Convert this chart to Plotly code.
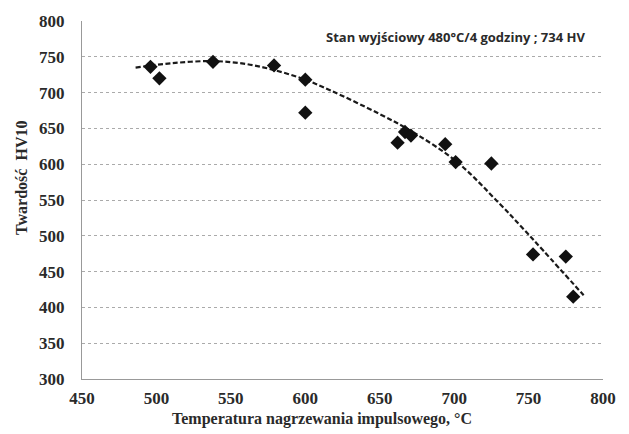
import plotly.graph_objects as go

# Measured data points
temp_c = [496, 502, 538, 579, 600, 600, 662, 667, 671, 694, 701, 725, 753, 775, 780]
hardness_hv = [736, 720, 743, 738, 718, 672, 630, 645, 640, 628, 603, 601, 474, 471, 415]

# Trend line
trend_x = [486, 510, 538, 560, 580, 600, 617, 650, 673, 702, 730, 745, 760, 787]
trend_y = [735, 741, 744, 740, 731, 718, 703, 670, 644, 603, 546, 513, 479, 417]

x_ticks = [450, 500, 550, 600, 650, 700, 750, 800]
y_ticks = [300, 350, 400, 450, 500, 550, 600, 650, 700, 750, 800]
x_labels = [f"<b>{v}</b>" for v in x_ticks]
y_labels = [f"<b>{v}</b>" for v in y_ticks]

serif = "Times New Roman, Liberation Serif, serif"
txt = "#2a2a2a"

W, H = 629, 434
L, R, T, B = 82, 26, 14, 55
pw, ph = W - L - R, H - T - B

fig = go.Figure()
fig.add_trace(go.Scatter(
    x=trend_x, y=trend_y, mode="lines",
    line=dict(color="#1a1a1a", width=2.2, dash="5px,2.5px", shape="spline"),
    showlegend=False, hoverinfo="skip"))
fig.add_trace(go.Scatter(
    x=temp_c, y=hardness_hv, mode="markers",
    marker=dict(symbol="diamond", size=11, color="#111111"),
    showlegend=False))

fig.add_annotation(
    x=0.969, y=777, xref="paper", yref="y",
    text="<b>Stan wyjściowy 480°C/4 godziny ; 734 HV</b>",
    showarrow=False, xanchor="right", yanchor="middle",
    font=dict(family="Open Sans", size=13, color=txt))

# Axis titles placed as in the reference (pixel centres converted to paper)
fig.add_annotation(
    x=(322 - L) / pw, y=(H - B - 420) / ph, xref="paper", yref="paper",
    text="<b>Temperatura nagrzewania impulsowego, °C</b>",
    showarrow=False, xanchor="center", yanchor="middle",
    font=dict(family=serif, size=16, color=txt))
fig.add_annotation(
    x=(22 - L) / pw, y=(H - B - 174) / ph, xref="paper", yref="paper",
    text="<b>Twardość  HV10</b>", textangle=-90,
    showarrow=False, xanchor="center", yanchor="middle",
    font=dict(family=serif, size=16, color=txt))

fig.update_layout(
    width=W, height=H,
    margin=dict(l=L, r=R, t=T, b=B),
    paper_bgcolor="white", plot_bgcolor="white",
    xaxis=dict(
        range=[450, 800], tickvals=x_ticks, ticktext=x_labels, ticks="",
        showgrid=False, zeroline=False,
        showline=True, linecolor="#999999", linewidth=1,
        tickfont=dict(family=serif, size=17, color=txt),
        ticklabelstandoff=4,
    ),
    yaxis=dict(
        range=[300, 800], tickvals=y_ticks, ticktext=y_labels, ticks="",
        showgrid=True, gridcolor="#aaaaaa", griddash="3px,3px", gridwidth=1,
        zeroline=False,
        showline=True, linecolor="#999999", linewidth=1,
        tickfont=dict(family=serif, size=17, color=txt),
        ticklabelstandoff=13,
    ),
)

fig.write_html("out.html")
